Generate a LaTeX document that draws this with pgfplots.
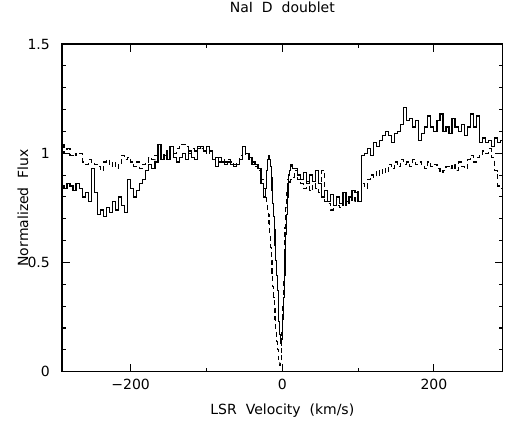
\documentclass[border=0pt]{standalone}
\usepackage{fontspec}
\setmainfont{DejaVu Sans}
\usepackage{pgfplots}
\usepackage{pgfplotstable}
\pgfplotsset{compat=1.18}

% solid spectrum
\pgfplotstableread{
v f
-290 0.85
-286 0.84
-282 0.86
-278 0.85
-274 0.83
-270 0.86
-266 0.84
-262 0.80
-258 0.82
-254 0.78
-250 0.93
-246 0.82
-242 0.72
-238 0.74
-234 0.71
-230 0.75
-226 0.73
-222 0.78
-218 0.74
-214 0.80
-210 0.76
-206 0.73
-202 0.88
-198 0.84
-194 0.80
-190 0.83
-186 0.86
-182 0.88
-178 0.92
-174 0.95
-170 0.93
-166 0.96
-162 1.04
-158 0.97
-154 0.99
-150 0.97
-146 1.03
-142 0.98
-138 0.96
-134 0.98
-130 1.00
-126 0.97
-122 1.01
-118 0.98
-114 0.97
-110 1.02
-106 1.03
-102 1.01
-98 1.03
-94 1.01
-90 0.97
-86 0.94
-82 0.98
-78 0.96
-74 0.95
-70 0.96
-66 0.95
-62 0.94
-58 0.95
-54 0.97
-50 1.03
-46 1.00
-42 0.98
-38 0.96
-34 0.95
-30 0.93
-26 0.86
-23 0.80
-21 0.84
-20 0.92
-19 0.97
-18 0.99
-17 0.98
-16 0.97
-15 0.94
-14 0.89
-13 0.83
-12 0.77
-11 0.71
-10 0.65
-9 0.58
-8 0.51
-7 0.44
-6 0.37
-5 0.30
-4 0.23
-3 0.17
-2 0.13
-1 0.12
0 0.15
1 0.24
2 0.34
3 0.44
4 0.54
5 0.63
6 0.72
7 0.80
8 0.86
9 0.90
10 0.92
11 0.94
12 0.95
14 0.93
18 0.93
22 0.90
26 0.88
30 0.91
34 0.86
38 0.90
42 0.87
46 0.92
50 0.86
54 0.80
58 0.83
62 0.78
66 0.81
70 0.76
74 0.80
78 0.77
82 0.82
86 0.78
90 0.80
94 0.83
98 0.82
102 0.78
106 0.99
110 1.00
114 1.02
118 0.99
122 1.05
126 1.03
130 1.06
134 1.08
138 1.10
142 1.08
146 1.05
150 1.09
154 1.10
158 1.13
162 1.21
166 1.15
170 1.16
174 1.12
178 1.15
182 1.06
186 1.09
190 1.12
194 1.17
198 1.12
202 1.10
206 1.15
210 1.18
214 1.10
218 1.12
222 1.09
226 1.16
230 1.12
234 1.10
238 1.13
242 1.08
246 1.12
250 1.18
254 1.12
258 1.17
262 1.05
266 1.07
270 1.05
274 1.06
278 1.03
282 1.07
286 1.05
290 1.06
}\solidtab

% dashed spectrum
\pgfplotstableread{
v f
-290 1.04
-286 1.00
-282 1.02
-278 0.99
-274 1.00
-270 0.99
-266 1.00
-262 0.96
-258 0.95
-254 0.97
-250 0.96
-246 0.95
-242 0.94
-238 0.92
-234 0.96
-230 0.97
-226 0.94
-222 0.96
-218 0.93
-214 0.95
-210 0.99
-206 0.97
-202 0.98
-198 0.96
-194 0.94
-190 0.96
-186 0.93
-182 0.95
-178 0.96
-174 0.98
-170 0.97
-166 0.99
-162 0.98
-158 1.00
-154 0.98
-150 1.01
-146 0.99
-142 1.00
-138 1.02
-134 1.04
-130 1.04
-126 1.03
-122 1.00
-118 1.02
-114 1.01
-110 1.03
-106 1.02
-102 1.00
-98 1.02
-94 0.99
-90 0.97
-86 0.98
-82 0.96
-78 0.97
-74 0.96
-70 0.97
-66 0.96
-62 0.95
-58 0.96
-54 0.99
-50 1.01
-46 0.99
-42 0.97
-38 0.95
-34 0.94
-30 0.92
-26 0.88
-23 0.84
-21 0.80
-20 0.77
-19 0.74
-18 0.72
-17 0.68
-16 0.63
-15 0.57
-14 0.51
-13 0.45
-12 0.39
-11 0.34
-10 0.29
-9 0.24
-8 0.19
-7 0.14
-6 0.10
-5 0.06
-4 0.04
-3 0.03
-2 0.04
-1 0.08
0 0.18
1 0.30
2 0.42
3 0.55
4 0.66
5 0.75
6 0.82
7 0.86
8 0.88
9 0.87
10 0.86
11 0.88
12 0.89
14 0.89
18 0.92
22 0.88
26 0.86
30 0.84
34 0.87
38 0.83
42 0.86
46 0.84
50 0.82
54 0.92
58 0.78
62 0.77
66 0.74
70 0.79
74 0.76
78 0.75
82 0.78
86 0.76
90 0.80
94 0.78
98 0.81
102 0.83
106 0.86
110 0.84
114 0.88
118 0.90
122 0.89
126 0.92
130 0.90
134 0.93
138 0.91
142 0.95
146 0.93
150 0.96
154 0.94
158 0.97
162 0.95
166 0.96
170 0.94
174 0.97
178 0.95
182 0.96
186 0.94
190 0.93
194 0.96
198 0.94
202 0.95
206 0.93
210 0.91
214 0.92
218 0.94
222 0.93
226 0.95
230 0.92
234 0.96
238 0.94
242 0.93
246 0.97
250 0.99
254 0.96
258 0.98
262 0.99
266 1.01
270 1.00
274 1.02
278 0.98
282 0.92
286 0.85
290 0.84
}\dashedtab

\begin{document}
\fontsize{14bp}{17bp}\selectfont
\begin{tikzpicture}
\useasboundingbox (-62bp,-51.3bp) rectangle (448bp,371.7bp);
\begin{axis}[
  at={(0,0)}, anchor=south west,
  scale only axis,
  width=440.7bp, height=327.7bp,
  xmin=-290.6, xmax=290.8,
  ymin=0, ymax=1.5,
  xtick={-200,0,200},
  xticklabels={−200,0,200},
  minor x tick num=1,
  ytick={0,0.5,1,1.5},
  minor y tick num=4,
  tick align=inside,
  major tick length=8bp,
  minor tick length=4bp,
  axis line style={line width=1.1bp},
  every tick/.style={black, line width=1.1bp},
  /pgf/number format/assume math mode=true,
  xticklabel style={anchor=base, inner sep=0pt, yshift=-17.8bp},
  yticklabel style={anchor=east, inner sep=0pt, xshift=-12bp},
  title={NaI\ \ D\ \ doublet},
  title style={at={([yshift=25.7bp]axis description cs:0.5,1)}, anchor=base},
  xlabel={LSR\ \ Velocity\ \ (km/s)},
  xlabel style={at={([yshift=-43bp]axis description cs:0.5,0)}, anchor=base},
  ylabel={Normalized\ \ Flux},
  ylabel style={at={([xshift=-34bp]axis description cs:0,0.5)}, anchor=base},
]
\addplot[black, line width=1.2bp, dash pattern=on 5bp off 3.5bp, const plot mark mid] table[x=v, y=f] {\dashedtab};
\addplot[black, line width=1.2bp, const plot mark mid] table[x=v, y=f] {\solidtab};
\end{axis}
\end{tikzpicture}
\end{document}
